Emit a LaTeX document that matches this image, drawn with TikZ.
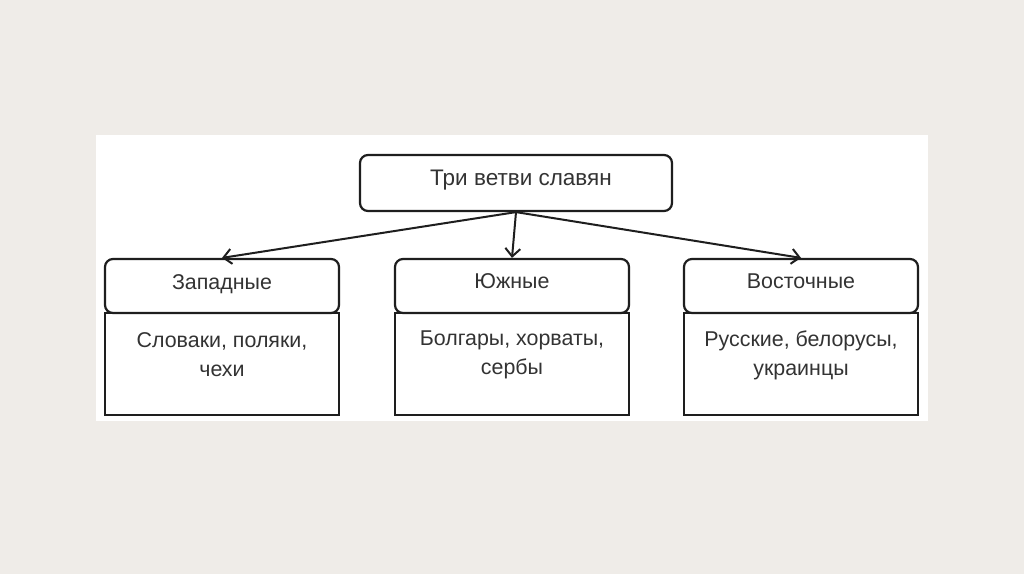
\documentclass[tikz,border=0pt]{standalone}
\usepackage{fontspec}
\setmainfont{Liberation Sans}
\usetikzlibrary{arrows.meta}
\definecolor{bg}{HTML}{EFECE8}
\definecolor{ln}{HTML}{1E1E1E}
\definecolor{tx}{HTML}{333333}
\begin{document}
\begin{tikzpicture}[x=1pt,y=-1pt,
  hdr/.style={draw=ln,line width=2.2pt,rounded corners=8pt,fill=white,minimum width=234pt,minimum height=54pt,inner sep=0pt},
  body/.style={draw=ln,line width=2.2pt,fill=white,minimum width=234pt,minimum height=102pt,inner sep=0pt},
  lbl/.style={text=tx,font=\fontsize{21.4}{29}\selectfont,align=center,inner sep=0pt},
  arr/.style={draw=ln,line width=2pt,-{Straight Barb[length=8pt,width=15pt,line width=2pt]}}]
\fill[bg] (0,0) rectangle (1024,574);
\useasboundingbox (0,0) rectangle (1024,574);
\fill[white] (96,135) rectangle (928,421);
% top
\node[hdr,minimum width=312pt,minimum height=56pt] (top) at (516,183) {};
\node[lbl,font=\fontsize{22.5}{29}\selectfont,anchor=base] (toplbl) at (521,185) {Три ветви славян};
% boxes
\node[body] (wb) at (222,364) {};
\node[hdr] (wh) at (222,286) {};
\node[lbl,anchor=base] (whl) at (222,289) {Западные};
\node[lbl] (wbl) at (222,355) {Словаки, поляки,\\чехи};
\node[body] (sb) at (512,364) {};
\node[hdr] (sh) at (512,286) {};
\node[lbl,anchor=base] (shl) at (512,288) {Южные};
\node[lbl] (sbl) at (512,355) {Болгары, хорваты,\\сербы};
\node[body] (eb) at (801,364) {};
\node[hdr] (eh) at (801,286) {};
\node[lbl,anchor=base] (ehl) at (801,288) {Восточные};
\node[lbl] (ebl) at (801,355) {Русские, белорусы,\\украинцы};
% arrows
\draw[arr] (top.south) -- (wh.north);
\draw[arr] (top.south) -- (sh.north);
\draw[arr] (top.south) -- (eh.north);
\end{tikzpicture}
\end{document}
